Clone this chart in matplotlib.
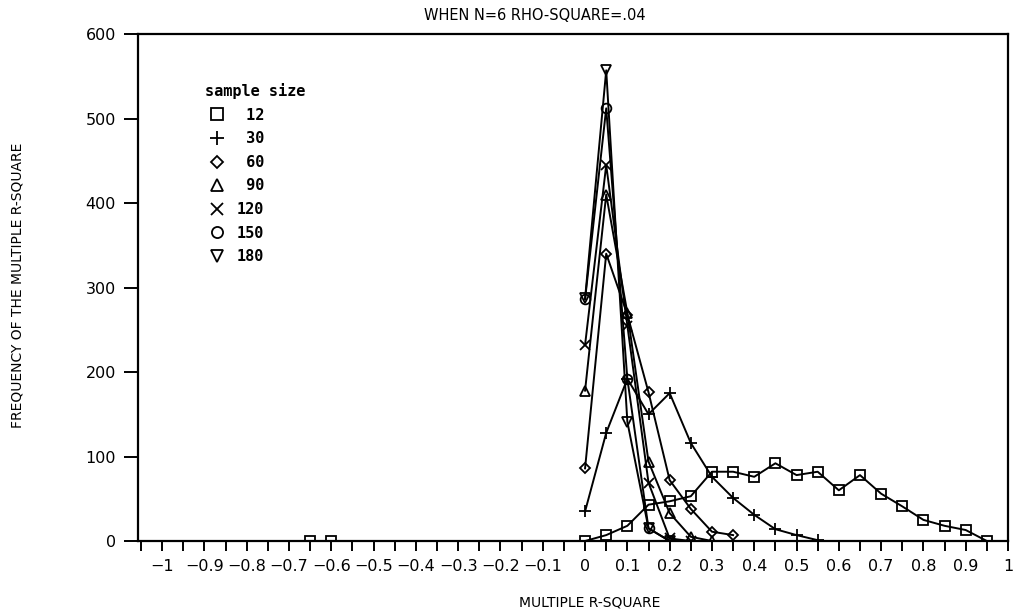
import matplotlib
matplotlib.use("Agg")
import matplotlib.pyplot as plt
from matplotlib.lines import Line2D

# frequency of multiple R-square, N=6, rho-square=.04
x_12 = [-0.65, -0.6, 0, 0.05, 0.1, 0.15, 0.2, 0.25, 0.3, 0.35, 0.4, 0.45,
        0.5, 0.55, 0.6, 0.65, 0.7, 0.75, 0.8, 0.85, 0.9, 0.95]
y_12 = [0, 0, 0, 7, 18, 43, 47, 53, 82, 82, 76, 92,
        78, 82, 60, 78, 56, 41, 25, 18, 13, 0]

x_30 = [0, 0.05, 0.1, 0.15, 0.2, 0.25, 0.3, 0.35, 0.4, 0.45, 0.5, 0.55]
y_30 = [35, 128, 192, 150, 175, 116, 76, 51, 31, 14, 7, 1]

x_60 = [0, 0.05, 0.1, 0.15, 0.2, 0.25, 0.3, 0.35]
y_60 = [86, 340, 268, 176, 72, 38, 11, 7]

x_90 = [0, 0.05, 0.1, 0.15, 0.2, 0.25, 0.3]
y_90 = [178, 410, 270, 94, 33, 5, 0]

x_120 = [0, 0.05, 0.1, 0.15, 0.2, 0.25]
y_120 = [232, 445, 255, 69, 3, 0]

x_150 = [0, 0.05, 0.1, 0.15, 0.2]
y_150 = [286, 512, 192, 15, 0]

x_180 = [0, 0.05, 0.1, 0.15, 0.2]
y_180 = [287, 557, 141, 15, 0]

sizes = ["12", "30", "60", "90", "120", "150", "180"]
markers = ["s", "+", "D", "^", "x", "o", "v"]

xticks = [-1, -0.9, -0.8, -0.7, -0.6, -0.5, -0.4, -0.3, -0.2, -0.1,
          0, 0.1, 0.2, 0.3, 0.4, 0.5, 0.6, 0.7, 0.8, 0.9, 1]
xticklabels = ["\u22121", "\u22120.9", "\u22120.8", "\u22120.7", "\u22120.6",
               "\u22120.5", "\u22120.4", "\u22120.3", "\u22120.2", "\u22120.1",
               "0", "0.1", "0.2", "0.3", "0.4", "0.5", "0.6", "0.7", "0.8", "0.9", "1"]
yticks = [0, 100, 200, 300, 400, 500, 600]

fig = plt.figure(figsize=(10.14, 6.15), dpi=100)
ax = fig.add_axes([0.1361, 0.1203, 0.8580, 0.8244])

series = [(x_12, y_12), (x_30, y_30), (x_60, y_60), (x_90, y_90),
          (x_120, y_120), (x_150, y_150), (x_180, y_180)]
msize = {"s": 7, "+": 9, "D": 5.5, "^": 7, "x": 7, "o": 7, "v": 7}
for (xs, ys), m in zip(series, markers):
    ax.plot(xs, ys, color="black", lw=1.4, marker=m, ms=msize[m],
            mfc="none", mec="black", mew=1.3)

ax.set_xlim(-1.057, 1.0)
ax.set_ylim(0, 600)
ax.set_xticks(xticks)
ax.set_xticklabels(xticklabels)
ax.set_xticks([t / 100 for t in range(-105, 100, 10)], minor=True)
ax.set_yticks(yticks)
ax.tick_params(axis="x", which="both", direction="out", length=7, width=1.4,
               labelsize=11.5, pad=6)
ax.tick_params(axis="y", direction="out", length=10, width=1.4,
               labelsize=11.5, pad=6)
for s in ax.spines.values():
    s.set_linewidth(1.6)

fig.text(590 / 1014, 1 - 603 / 615, "MULTIPLE R-SQUARE", ha="center",
         va="center", fontsize=10)
fig.text(18 / 1014, 1 - 285 / 615, "FREQUENCY OF THE MULTIPLE R-SQUARE",
         ha="center", va="center", rotation=90, fontsize=10)
fig.text(535 / 1014, 1 - 15 / 615, "WHEN N=6 RHO-SQUARE=.04", ha="center",
         va="center", fontsize=10.5)

handles = [Line2D([], [], ls="none", marker=m, ms=msize[m] + 1, mfc="none",
                  mec="black", mew=1.3) for m in markers]
labels = ["%3s" % s for s in sizes]
leg = ax.legend(handles, labels, title="sample size", loc="upper left",
                bbox_to_anchor=(0.068, 0.918), frameon=False, borderpad=0,
                handlelength=1.6, handletextpad=0.5, labelspacing=0.56,
                prop={"family": "DejaVu Sans Mono", "weight": "bold", "size": 11},
                alignment="left")
leg.get_title().set_fontfamily("DejaVu Sans Mono")
leg.get_title().set_fontweight("bold")
leg.get_title().set_fontsize(11)

fig.savefig("out.png", dpi=100)
